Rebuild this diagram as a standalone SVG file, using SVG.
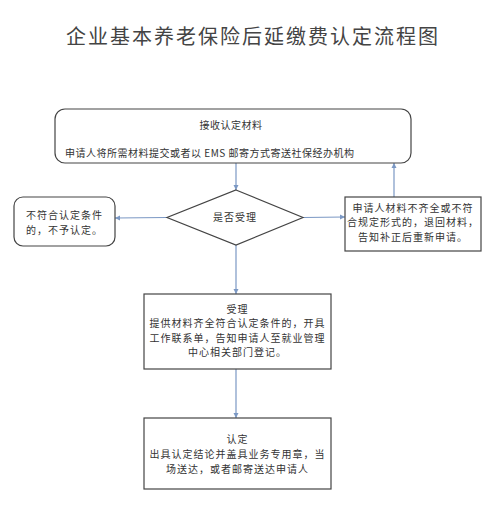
<svg xmlns="http://www.w3.org/2000/svg" width="490" height="530" viewBox="0 0 490 530">
  <defs>
    <marker id="arr" markerWidth="6" markerHeight="6" refX="5" refY="3" orient="auto" markerUnits="userSpaceOnUse">
      <path d="M0,0.5 L5,3 L0,5.5 z" fill="#7b98c4"/>
    </marker>
    <style>
      .t { font-family: "Noto Sans CJK SC", "Noto Sans", sans-serif; fill: #333; font-size: 10px; letter-spacing: 1px; }
      .c { text-anchor: middle; }
      .box { fill: #fff; stroke: #444; stroke-width: 1.2; }
      .conn { stroke: #7b98c4; stroke-width: 1.2; fill: none; marker-end: url(#arr); }
    </style>
  </defs>
  <rect width="490" height="530" fill="#fff"/>
  <text x="66" y="44" style="font-family: 'Noto Sans CJK SC', 'Noto Sans', sans-serif; font-size: 20px; letter-spacing: 2px; fill: #444;">企业基本养老保险后延缴费认定流程图</text>

  <g id="connectors">
    <line class="conn" x1="236" y1="163" x2="236" y2="190"/>
    <line class="conn" x1="167" y1="217.5" x2="115" y2="218"/>
    <line class="conn" x1="303" y1="217.5" x2="345" y2="217"/>
    <line class="conn" x1="394" y1="197" x2="394" y2="163"/>
    <line class="conn" x1="236" y1="245" x2="236" y2="294"/>
    <line class="conn" x1="236" y1="369" x2="236" y2="418"/>
  </g>

  <g id="receive">
    <rect class="box" x="55" y="109" width="356" height="54" rx="10" ry="10"/>
    <text class="t c" x="231" y="129" style="font-size:10px;letter-spacing:0.5px">接收认定材料</text>
    <text class="t" x="65" y="157" style="font-size:10px;letter-spacing:0.5px">申请人将所需材料提交或者以 EMS 邮寄方式寄送社保经办机构</text>
  </g>

  <g id="decision">
    <polygon class="box" points="236,190 303,217.5 236,245 167,217.5"/>
    <text class="t c" x="235" y="221">是否受理</text>
  </g>

  <g id="reject">
    <rect class="box" x="14" y="197" width="101" height="49" rx="9" ry="9"/>
    <text class="t" x="26" y="219">不符合认定条件</text>
    <text class="t" x="26" y="233.5">的，不予认定。</text>
  </g>

  <g id="return">
    <rect class="box" x="345" y="197" width="136" height="54"/>
    <text class="t c" x="413" y="211.5">申请人材料不齐全或不符</text>
    <text class="t c" x="413" y="226">合规定形式的，退回材料，</text>
    <text class="t c" x="413" y="240.5">告知补正后重新申请。</text>
  </g>

  <g id="accept">
    <rect class="box" x="144" y="294" width="187" height="75"/>
    <text class="t c" x="237.5" y="312.5">受理</text>
    <text class="t c" x="237.5" y="327">提供材料齐全符合认定条件的，开具</text>
    <text class="t c" x="237.5" y="341.5">工作联系单，告知申请人至就业管理</text>
    <text class="t c" x="237.5" y="356">中心相关部门登记。</text>
  </g>

  <g id="confirm">
    <rect class="box" x="144" y="418" width="187" height="71"/>
    <text class="t c" x="237.5" y="443">认定</text>
    <text class="t c" x="237.5" y="458">出具认定结论并盖具业务专用章，当</text>
    <text class="t c" x="237.5" y="473">场送达，或者邮寄送达申请人</text>
  </g>
</svg>
